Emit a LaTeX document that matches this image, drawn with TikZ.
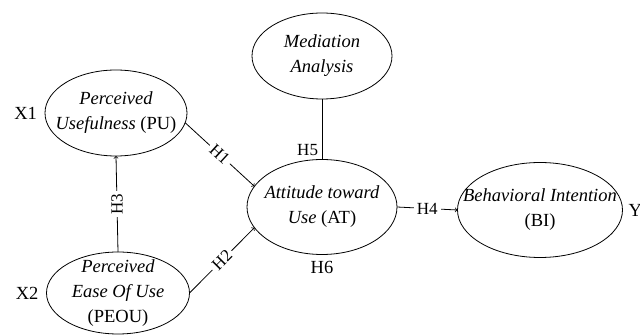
\documentclass[tikz,border=0pt]{standalone}
\usepackage{fontspec}
\setmainfont{Liberation Serif}
\usetikzlibrary{shapes.geometric,positioning}
\begin{document}
\begin{tikzpicture}[x=1pt,y=-1pt,inner sep=0pt,outer sep=0pt,line width=0.8pt,
font=\fontsize{18.5}{25}\selectfont,
construct/.style={draw,ellipse,align=center,inner sep=-40pt,line width=0.8pt},
hyplabel/.style={fill=white,inner sep=3pt,font=\fontsize{17}{18}\selectfont}]
\useasboundingbox (0,0) rectangle (640,336);
\draw (116,113) node[construct,minimum width=142,minimum height=86] (PU) {\textit{Perceived}\\\textit{Usefulness} (PU)};
\draw (118,293) node[construct,minimum width=143,minimum height=82] (PEOU) {\textit{Perceived}\\\textit{Ease Of Use}\\(PEOU)};
\draw (322,56) node[construct,minimum width=140,minimum height=86] (MA) {\textit{Mediation}\\\textit{Analysis}};
\draw (322,207) node[construct,minimum width=150,minimum height=95] (AT) {\textit{Attitude toward}\\\textit{Use} (AT)};
\draw (540,210) node[construct,minimum width=165,minimum height=95] (BI) {\textit{Behavioral Intention}\\(BI)};
% side labels
\node[left=8pt of PU] (X1) {X1};
\node[left=8pt of PEOU] (X2) {X2};
\node[right=6pt of BI.east] (Y) {Y};
\node[below=7pt of AT] (H6) {H6};
% paths
\draw[->] (PU.-8) -- node[hyplabel,sloped] {H1} (AT.163);
\draw[->] (PEOU.0) -- node[hyplabel,sloped] {H2} (AT.-163);
\draw[->] (PEOU.north) -- node[hyplabel,rotate=90] {H3} (PU.south);
\draw[->] (AT.east) -- node[hyplabel] {H4} (BI.west);
\draw (MA.south) -- node[pos=0.85,left=4pt,font=\fontsize{17}{18}\selectfont] {H5} (AT.north);
\end{tikzpicture}
\end{document}
